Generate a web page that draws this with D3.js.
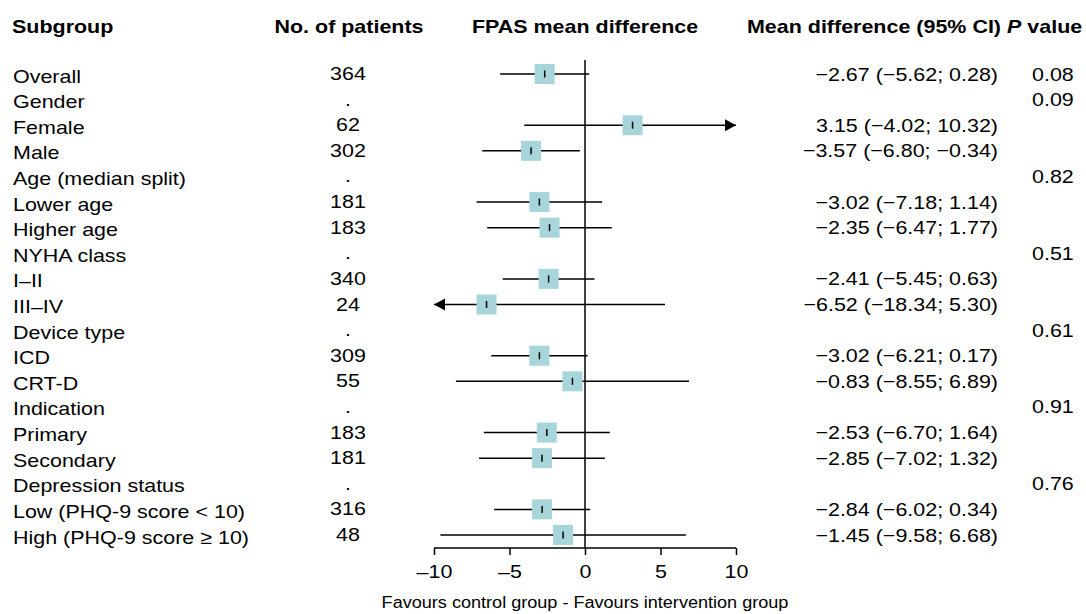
<!DOCTYPE html>
<html>
<head>
<meta charset="utf-8">
<script src="https://cdn.jsdelivr.net/npm/d3@7"></script>
<style>
  body { margin: 0; background: #fff; }
  text { font-family: "Liberation Sans", Arial, sans-serif; fill: #000; }
</style>
</head>
<body>
<div id="chart"></div>
<script>
const subgroups = ["Overall", "Gender", "Female", "Male", "Age (median split)", "Lower age", "Higher age",
  "NYHA class", "I\u2013II", "III\u2013IV", "Device type", "ICD", "CRT-D", "Indication", "Primary", "Secondary",
  "Depression status", "Low (PHQ-9 score < 10)", "High (PHQ-9 score \u2265 10)"]
const patients = ["364", ".", "62", "302", ".", "181", "183", ".", "340", "24", ".", "309", "55", ".", "183", "181", ".", "316", "48"]
const means  = [-2.67, null, 3.15, -3.57, null, -3.02, -2.35, null, -2.41, -6.52, null, -3.02, -0.83, null, -2.53, -2.85, null, -2.84, -1.45]
const lowers = [-5.62, null, -4.02, -6.80, null, -7.18, -6.47, null, -5.45, -18.34, null, -6.21, -8.55, null, -6.70, -7.02, null, -6.02, -9.58]
const uppers = [0.28, null, 10.32, -0.34, null, 1.14, 1.77, null, 0.63, 5.30, null, 0.17, 6.89, null, 1.64, 1.32, null, 0.34, 6.68]
const pvalues = ["0.08", "0.09", "", "", "0.82", "", "", "0.51", "", "", "0.61", "", "", "0.91", "", "", "0.76", "", ""]
const xTicks = [-10, -5, 0, 5, 10]

const WIDTH = 1086, HEIGHT = 614
const FS = 19, SX = 1.13   // text is slightly wide in the original

const svg = d3.select("#chart").append("svg").attr("width", WIDTH).attr("height", HEIGHT)

const x = d3.scaleLinear().domain([-10, 10]).range([434, 736])
const y = d3.scaleLinear().domain([0, subgroups.length - 1]).range([74, 535])
const AXIS_Y = 548

const minus = s => s.replace(/-/g, "\u2013")
const f2 = d3.format(".2f")

function txt(px, py, s, anchor, bold, size) {
  return svg.append("text")
    .attr("transform", "translate(" + px + "," + py + ") scale(" + SX + ",1)")
    .attr("text-anchor", anchor || "start")
    .attr("font-size", size || FS)
    .attr("font-weight", bold ? "bold" : "normal")
    .text(s)
}

// headers
txt(12, 33, "Subgroup", "start", true)
txt(349, 33, "No. of patients", "middle", true)
txt(585, 33, "FPAS mean difference", "middle", true)
txt(1001, 33, "Mean difference (95% CI)", "end", true)
const ph = txt(1007, 33, "", "start", true)
ph.append("tspan").attr("font-style", "italic").text("P")
ph.append("tspan").text(" value")

// zero line
svg.append("line").attr("x1", x(0)).attr("x2", x(0)).attr("y1", 60).attr("y2", AXIS_Y)
  .attr("stroke", "#000").attr("stroke-width", 1.5)

// axis
const axis = d3.axisBottom(x).tickValues(xTicks).tickSize(7).tickFormat(d => minus(String(d)))
const ag = svg.append("g").attr("transform", "translate(0," + AXIS_Y + ")").call(axis)
ag.select(".domain").attr("stroke", "#000").attr("stroke-width", 1.5).attr("d", "M" + x(-10) + ",0H" + x(10))
ag.selectAll(".tick line").attr("stroke", "#000").attr("stroke-width", 1.5)
ag.selectAll(".tick text").attr("font-size", FS).attr("font-family", "Liberation Sans, Arial, sans-serif")
  .attr("fill", "#000").attr("y", 17).attr("dy", "0.71em").attr("transform", "scale(" + SX + ",1)")

txt(585, 608, "Favours control group - Favours intervention group", "middle", false, 16)

// rows
subgroups.forEach((s, i) => {
  const cy = y(i)
  txt(13, cy + 8.5, s, "start", false)
  txt(348, cy + 6, patients[i], "middle", false)
  if (pvalues[i]) txt(1032, cy + 6.5, pvalues[i], "start", false)
  if (means[i] == null) return

  txt(998, cy + 6.5, minus(f2(means[i]) + " (" + f2(lowers[i]) + "; " + f2(uppers[i]) + ")"), "end", false)

  const lo = Math.max(lowers[i], -10), hi = Math.min(uppers[i], 10)
  svg.append("line").attr("x1", x(lo)).attr("x2", x(hi)).attr("y1", cy).attr("y2", cy)
    .attr("stroke", "#000").attr("stroke-width", 1.5)
  svg.append("rect").attr("x", x(means[i]) - 10).attr("y", cy - 10).attr("width", 20).attr("height", 20)
    .attr("fill", "#a7d5d9")
  svg.append("line").attr("x1", x(means[i])).attr("x2", x(means[i])).attr("y1", cy - 3.5).attr("y2", cy + 3.5)
    .attr("stroke", "#000").attr("stroke-width", 1.5)

  if (uppers[i] > 10) {
    const tx = x(10)
    svg.append("path").attr("d", "M" + tx + "," + cy + "L" + (tx - 11) + "," + (cy - 6) + "L" + (tx - 11) + "," + (cy + 6) + "Z").attr("fill", "#000")
  }
  if (lowers[i] < -10) {
    const tx = x(-10)
    svg.append("path").attr("d", "M" + tx + "," + cy + "L" + (tx + 11) + "," + (cy - 6) + "L" + (tx + 11) + "," + (cy + 6) + "Z").attr("fill", "#000")
  }
})
</script>
</body>
</html>
